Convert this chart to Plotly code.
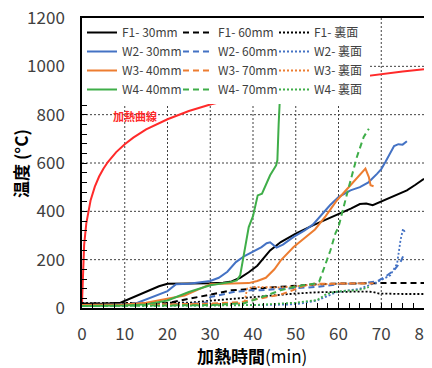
import plotly.graph_objects as go

# ---------------- data ----------------
heat_t = [0, 0.25, 0.5, 1, 1.5, 2, 3, 4, 5, 6, 8, 10, 12, 15, 20, 25, 30, 35, 40, 45, 50, 55, 60, 65, 70, 75, 80]
heat_T = [20, 190, 261, 349, 404, 445, 502, 544, 576, 603, 645, 678, 705, 739, 781, 815, 842, 865, 885, 902, 918, 932, 945, 957, 968, 979, 988]

f1_30_t = [0, 5, 9, 12, 15, 18, 20, 25, 30, 33, 35, 37, 39, 41, 44, 46.5, 50, 54, 57, 60, 63, 65, 66.5, 68, 70, 73, 76, 78, 80]
f1_30_T = [18, 18, 22, 45, 70, 90, 100, 100, 102, 105, 110, 125, 148, 175, 238, 273, 308, 342, 365, 390, 412, 430, 432, 425, 440, 462, 487, 510, 535]

w2_30_t = [0, 10, 13, 15, 18, 20, 22, 25, 30, 32, 34, 36, 38, 40, 42, 43.2, 44, 45.5, 47, 49.5, 52, 54, 56, 58, 60, 62.8, 65, 67, 69, 70, 71, 72, 73, 74, 75, 76]
w2_30_T = [12, 14, 22, 35, 55, 70, 98, 100, 112, 125, 150, 190, 215, 232, 252, 268, 272, 250, 262, 294, 320, 345, 385, 425, 459, 487, 500, 520, 555, 575, 605, 640, 670, 678, 676, 690]

w3_40_t = [0, 10, 15, 18, 20, 24, 27, 30, 33, 36, 39, 41, 43, 45, 46.5, 49.5, 52, 54.5, 57, 59.6, 62.8, 65, 66.3, 67.1, 67.5, 68.2]
w3_40_T = [12, 14, 22, 32, 40, 52, 75, 98, 100, 101, 103, 112, 125, 160, 197, 252, 290, 325, 380, 445, 508, 550, 577, 542, 508, 504]

w4_40_t = [0, 10, 15, 20, 25, 30, 34.7, 36.2, 37, 38, 39, 40, 40.5, 41.1, 42.1, 43, 44, 45.4, 45.7, 46, 46.2, 46.4]
w4_40_T = [8, 10, 15, 31, 66, 94, 107, 114, 135, 235, 335, 380, 420, 466, 473, 510, 549, 590, 611, 760, 873, 908]

f1_60_t = [0, 10, 18, 20, 25, 30, 35, 40, 45, 50, 55, 60, 65, 70, 75, 80]
f1_60_T = [18, 18, 18, 20, 38, 57, 73, 80, 87, 94, 98, 101, 103, 103, 103, 103]

w2_60_t = [0, 10, 20, 28, 29.2, 30, 35.4, 39.3, 41.7, 47, 55, 61, 66, 69, 71, 73, 74.5, 75.3]
w2_60_T = [10, 12, 15, 20, 24, 45, 66, 73, 73, 80, 87, 100, 103, 110, 130, 156, 190, 222]

w3_70_t = [0, 10, 20, 30, 37, 39.3, 41.7, 43.2, 46.4, 49.5, 52, 54.2, 58, 62, 66.5, 68.2]
w3_70_T = [10, 12, 14, 18, 24, 31, 38, 45, 55, 75, 92, 100, 100, 100, 103, 102]

w4_70_t = [0, 10, 20, 30, 38, 41.7, 43.2, 46.4, 49.5, 52, 54.2, 55.5, 56.5, 58.1, 59.3, 60, 62, 64.3, 65.9, 67.1]
w4_70_T = [8, 9, 10, 12, 20, 45, 52, 73, 87, 95, 100, 110, 156, 238, 310, 335, 473, 625, 708, 742]

f1_b_t = [0, 10, 20, 25, 30, 35, 40, 45, 50, 55, 60, 65, 68, 69.5, 75, 80]
f1_b_T = [20, 20, 20, 22, 30, 38, 45, 52, 60, 65, 68, 68, 67, 60, 58, 58]

w2_b_t = [0, 10, 20, 30, 40, 48, 51, 55, 59.6, 65.1, 69, 72.1, 73.7, 74.5, 75.1, 75.7]
w2_b_T = [10, 10, 10, 11, 12, 14, 18, 31, 66, 80, 107, 135, 183, 280, 328, 308]

w3_b_t = [0, 10, 20, 30, 38, 38.6, 40.1, 46.4, 52.5, 58.9, 66.5]
w3_b_T = [12, 13, 14, 16, 20, 80, 87, 85, 94, 100, 103]

w4_b_t = [0, 10, 20, 30, 40, 47.1, 50, 54.2, 55, 57.3, 59.6, 62, 64.3, 66, 67.1]
w4_b_T = [8, 8, 9, 10, 12, 18, 22, 31, 33, 59, 68, 72, 73, 80, 87]

x_grid = [10, 20, 30, 40, 50, 60, 70]
y_grid = [200, 400, 600, 800, 1000]

# ---------------- styles ----------------
BLACK = "#000000"
BLUE = "#4472C4"
ORANGE = "#ED7D31"
GREEN = "#3FAE49"
RED = "#FF2A2A"
FONT = "Noto Sans CJK JP"
DASH = "6px,4px"
DOT = "2px,2px"

series = [
    ("F1- 30mm", f1_30_t, f1_30_T, BLACK, "solid"),
    ("F1- 60mm", f1_60_t, f1_60_T, BLACK, DASH),
    ("F1- 裏面", f1_b_t, f1_b_T, BLACK, DOT),
    ("W2- 30mm", w2_30_t, w2_30_T, BLUE, "solid"),
    ("W2- 60mm", w2_60_t, w2_60_T, BLUE, DASH),
    ("W2- 裏面", w2_b_t, w2_b_T, BLUE, DOT),
    ("W3- 40mm", w3_40_t, w3_40_T, ORANGE, "solid"),
    ("W3- 70mm", w3_70_t, w3_70_T, ORANGE, DASH),
    ("W3- 裏面", w3_b_t, w3_b_T, ORANGE, DOT),
    ("W4- 40mm", w4_40_t, w4_40_T, GREEN, "solid"),
    ("W4- 70mm", w4_70_t, w4_70_T, GREEN, DASH),
    ("W4- 裏面", w4_b_t, w4_b_T, GREEN, DOT),
]

fig = go.Figure()

# dotted grid lines (drawn below traces)
for gx in x_grid:
    fig.add_shape(type="line", xref="x", yref="paper", x0=gx, x1=gx, y0=0, y1=1, layer="below",
                  line=dict(color="#404040", width=1, dash="2px,2px"))
for gy in y_grid:
    fig.add_shape(type="line", xref="paper", yref="y", x0=0, x1=1, y0=gy, y1=gy, layer="below",
                  line=dict(color="#404040", width=1, dash="2px,2px"))

fig.add_trace(go.Scatter(x=heat_t, y=heat_T, mode="lines", line=dict(color=RED, width=2),
                         showlegend=False, hoverinfo="skip"))
for name, t, T, c, d in series:
    fig.add_trace(go.Scatter(x=t, y=T, mode="lines", name=name,
                             line=dict(color=c, width=2 if d != DOT else 1.8, dash=d)))

fig.add_annotation(x=12.4, y=794, text="<b>加熱曲線</b>", showarrow=False,
                   font=dict(family=FONT, size=11, color=RED))

# axis titles
fig.add_annotation(xref="paper", yref="paper", x=-0.1815, y=0.5, textangle=-90,
                   text="<b>温度 (°C)</b>", showarrow=False, xanchor="center", yanchor="middle",
                   font=dict(family=FONT, size=17, color="#000000"))
fig.add_annotation(xref="paper", yref="paper", x=0.4977, y=-0.163,
                   text="<b>加熱時間</b>(min)", showarrow=False, xanchor="center", yanchor="middle",
                   font=dict(family=FONT, size=17, color="#000000"))

axis_common = dict(
    showline=True, linecolor="#000000", linewidth=1.5, mirror=True,
    ticks="inside", ticklen=5, tickcolor="#000000", tickwidth=1,
    showgrid=False, zeroline=False,
    tickfont=dict(family=FONT, size=17, color="#404040"),
    tickmode="linear", tick0=0, ticklabeloverflow="allow",
)

fig.update_xaxes(range=[0, 80], dtick=10, ticklabelstandoff=10,
                 minor=dict(dtick=2.5, tick0=0, ticks="inside", ticklen=5, tickcolor="#000000"),
                 **axis_common)
fig.update_yaxes(range=[0, 1200], dtick=200, ticklabelstandoff=12,
                 minor=dict(dtick=40, tick0=0, ticks="inside", ticklen=5, tickcolor="#000000"),
                 **axis_common)

fig.update_layout(
    width=424, height=360,
    margin=dict(l=74, r=8, t=10, b=60, autoexpand=False),
    plot_bgcolor="#FFFFFF", paper_bgcolor="#FFFFFF",
    legend=dict(orientation="h", x=0.0, y=1.0, xanchor="left", yanchor="top",
                bgcolor="#FFFFFF", borderwidth=0, entrywidth=51, entrywidthmode="pixels",
                font=dict(family=FONT, size=12, color="#404040"), traceorder="normal"),
)

fig.write_html("out.html")
